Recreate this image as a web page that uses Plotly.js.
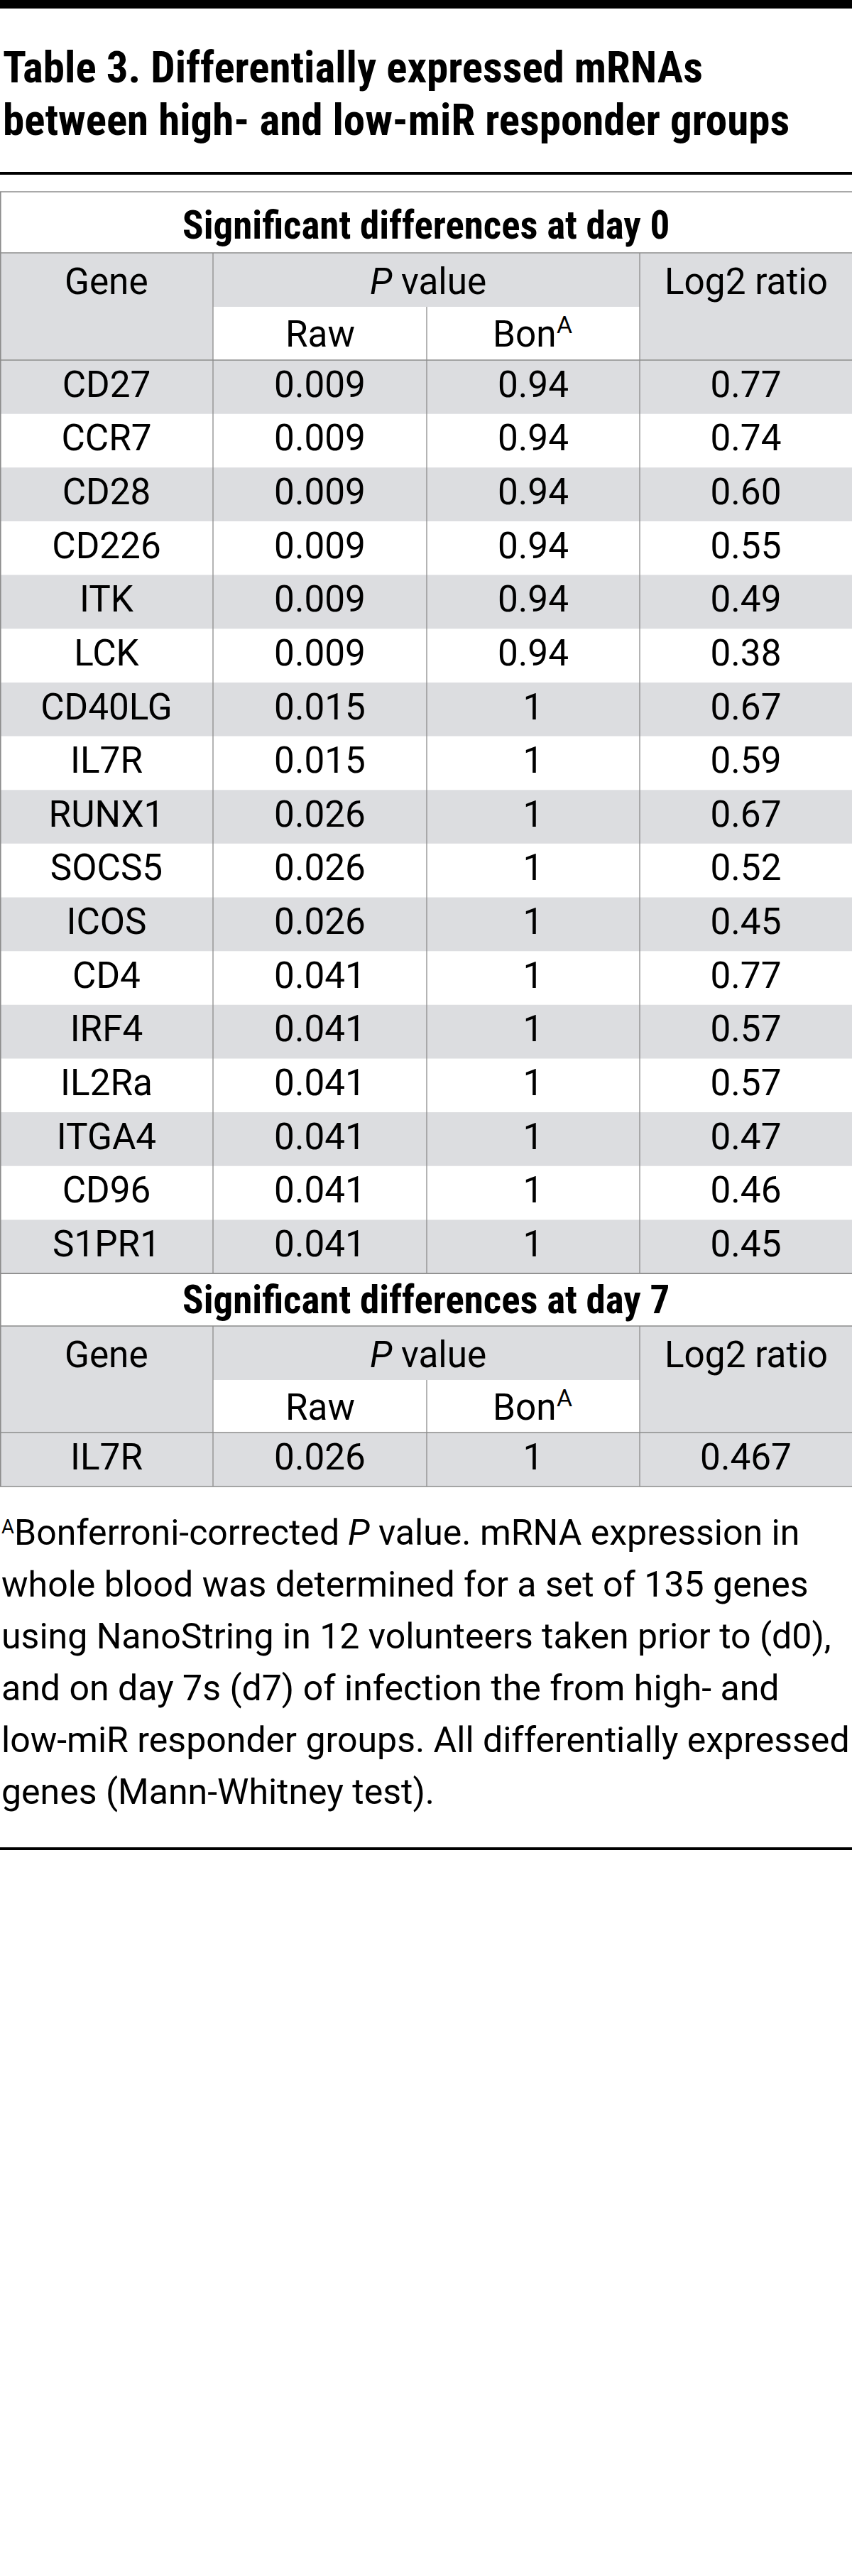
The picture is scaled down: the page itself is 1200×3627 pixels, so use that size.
<!DOCTYPE html>
<html>
<head>
<meta charset="utf-8">
<script src="https://cdn.plot.ly/plotly-3.0.1.min.js"></script>
<style>
  html, body { margin: 0; padding: 0; background: #ffffff; }
  #chart { width: 1200px; height: 3627px; }
</style>
</head>
<body>
<div id="chart"></div>
<script>
// ---------------- DATA ----------------
const titleLines = [
  'Table 3. Differentially expressed mRNAs',
  'between high- and low-miR responder groups'
];
const sectionTitles = ['Significant differences at day 0', 'Significant differences at day 7'];
const colHeaders = ['Gene', 'P value', 'Log2 ratio'];
const subHeaders = ['Raw', 'Bon'];
const footnoteMark = 'A';

const genesDay0 = ['CD27','CCR7','CD28','CD226','ITK','LCK','CD40LG','IL7R','RUNX1','SOCS5','ICOS','CD4','IRF4','IL2Ra','ITGA4','CD96','S1PR1'];
const rawDay0   = ['0.009','0.009','0.009','0.009','0.009','0.009','0.015','0.015','0.026','0.026','0.026','0.041','0.041','0.041','0.041','0.041','0.041'];
const bonDay0   = ['0.94','0.94','0.94','0.94','0.94','0.94','1','1','1','1','1','1','1','1','1','1','1'];
const log2Day0  = ['0.77','0.74','0.60','0.55','0.49','0.38','0.67','0.59','0.67','0.52','0.45','0.77','0.57','0.57','0.47','0.46','0.45'];

const genesDay7 = ['IL7R'];
const rawDay7   = ['0.026'];
const bonDay7   = ['1'];
const log2Day7  = ['0.467'];

const footnoteLines = [
  'Bonferroni-corrected P value. mRNA expression in',
  'whole blood was determined for a set of 135 genes',
  'using NanoString in 12 volunteers taken prior to (d0),',
  'and on day 7s (d7) of infection the from high- and',
  'low-miR responder groups. All differentially expressed',
  'genes (Mann-Whitney test).'
];

// ---------------- STYLE / LAYOUT ----------------
const W = 1200, H = 3627;
const FAMILY = 'Roboto, "Liberation Sans", "Open Sans", sans-serif';
const GREY = '#dcdde0';
const LINE = '#8c8c8c';
const colX = [0, 300, 601, 901, 1200];
const colC = [150, 450.5, 751, 1050.5];

const cv = document.createElement('canvas').getContext('2d');
function hasFont(name) {
  const probe = 'mmmmmmmmmmlliWQ@#1234';
  let diff = false;
  ['monospace', 'serif'].forEach(fb => {
    cv.font = '72px ' + fb;
    const a = cv.measureText(probe).width;
    cv.font = '72px "' + name + '", ' + fb;
    const b = cv.measureText(probe).width;
    if (Math.abs(a - b) > 0.5) diff = true;
  });
  return diff;
}
const condensedCandidates = ['Roboto Condensed', 'Liberation Sans Narrow', 'DejaVu Sans Condensed', 'Open Sans Condensed', 'Noto Sans Condensed'];
const condensed = condensedCandidates.find(hasFont);
const HEAD_FAMILY = condensed ? '"' + condensed + '", ' + FAMILY : FAMILY;

function measure(text, size, style, weight, family) {
  cv.font = (style || 'normal') + ' normal ' + (weight || 'normal') + ' ' + size + 'px ' + (family || FAMILY);
  return cv.measureText(text).width;
}
function fitSize(text, weight, family, target, lo, hi) {
  const s = 100 * target / measure(text, 100, 'normal', weight, family);
  return Math.max(lo, Math.min(hi, s));
}
const titleFS = fitSize(titleLines[1], 'bold', HEAD_FAMILY, 1156, 40, 61);
const secFS = fitSize(sectionTitles[0], 'bold', HEAD_FAMILY, 698, 38, 55);
const cellFS = fitSize('Log2 ratio', 'normal', FAMILY, 230, 40, 54);
const footFS = fitSize(footnoteLines[4], 'normal', FAMILY, 1195, 38, 54);

const shapes = [];
const annotations = [];
const traces = [];

function rect(x0, x1, y0, y1, color) {
  shapes.push({type: 'rect', xref: 'x', yref: 'y', x0, x1, y0, y1,
    fillcolor: color, line: {width: 0}, layer: 'below'});
}
function line(x0, y0, x1, y1, color, width) {
  shapes.push({type: 'line', xref: 'x', yref: 'y', x0, y0, x1, y1,
    line: {color: color, width: width}, layer: 'below'});
}
function label(text, x, y, size, opts) {
  opts = opts || {};
  annotations.push({text: text, x: x, y: y, xref: 'x', yref: 'y', showarrow: false,
    xanchor: opts.xanchor || 'center', yanchor: 'middle',
    font: {family: opts.family || FAMILY, size: size, color: '#000',
           weight: opts.weight || 'normal', style: opts.style || 'normal'}});
}
// a line made of runs of differently styled text (italic, superscript), laid side by side
function runs(segs, x, y, anchor) {
  const widths = segs.map(s => measure(s.t, s.size, s.style, s.weight, s.family));
  const total = widths.reduce((a, b) => a + b, 0) - measure(' ', segs[segs.length - 1].size);
  let cx = anchor === 'center' ? x - total / 2 : x;
  segs.forEach((s, i) => {
    label(s.t.trim(), cx, y + (s.dy || 0), s.size, {xanchor: 'left', style: s.style, weight: s.weight, family: s.family});
    cx += widths[i];
  });
}

// top bar & title
rect(0, W, 0, 12, '#000');
titleLines.forEach((t, i) => {
  label(t, 2, 95 + i * 74, titleFS, {xanchor: 'left', family: HEAD_FAMILY, weight: 'bold'});
});
rect(0, W, 242, 246, '#000');

function section(top, titleH, h1, h2, rowH, title, genes, raw, bon, log2) {
  const yHead = top + titleH;
  const ySub = yHead + h1;
  const yData = ySub + h2;
  const yEnd = yData + rowH * genes.length;

  // fills
  rect(colX[0], colX[1], yHead, yData, GREY);
  rect(colX[1], colX[3], yHead, ySub, GREY);
  rect(colX[3], colX[4], yHead, yData, GREY);
  genes.forEach((g, i) => {
    if (i % 2 === 0) rect(0, W, yData + i * rowH, yData + (i + 1) * rowH, GREY);
  });

  // lines
  line(0, top, W, top, LINE, 1.6);
  line(0, yHead, W, yHead, LINE, 1.6);
  line(0, yData, W, yData, LINE, 1.6);
  line(0, yEnd, W, yEnd, LINE, 1.6);
  line(0.8, top, 0.8, yEnd, LINE, 1.6);
  line(colX[1], yHead, colX[1], yEnd, LINE, 1.3);
  line(colX[3], yHead, colX[3], yEnd, LINE, 1.3);
  line(colX[2], ySub, colX[2], yEnd, LINE, 1.3);

  // text
  label(title, 600, top + titleH / 2 + (titleH > 80 ? 4 : 0), secFS, {family: HEAD_FAMILY, weight: 'bold'});
  const hc = yHead + h1 / 2 + 2;
  label(colHeaders[0], colC[0], hc, cellFS);
  const pv = colHeaders[1].split(' ');
  runs([{t: pv[0] + ' ', size: cellFS, style: 'italic'}, {t: pv.slice(1).join(' ') + ' ', size: cellFS}],
       (colC[1] + colC[2]) / 2, hc, 'center');
  label(colHeaders[2], colC[3], hc, cellFS);
  const sc = ySub + h2 / 2 + 1;
  label(subHeaders[0], colC[1], sc, cellFS);
  runs([{t: subHeaders[1], size: cellFS}, {t: footnoteMark + ' ', size: cellFS * 0.66, dy: -cellFS * 0.25}],
       colC[2] - 3, sc, 'center');

  const ys = genes.map((g, i) => yData + (i + 0.5) * rowH + 1);
  [genes, raw, bon, log2].forEach((col, c) => {
    traces.push({type: 'scatter', mode: 'text', x: col.map(() => colC[c]), y: ys,
      text: col, textposition: 'middle center', hoverinfo: 'skip', showlegend: false,
      textfont: {family: FAMILY, size: cellFS, color: '#000'}, cliponaxis: false});
  });
  return yEnd;
}

const end0 = section(270, 86, 76, 75, 75.65, sectionTitles[0], genesDay0, rawDay0, bonDay0, log2Day0);
section(end0, 74, 76, 74, 76, sectionTitles[1], genesDay7, rawDay7, bonDay7, log2Day7);

footnoteLines.forEach((t, i) => {
  const y = 2158 + i * 73;
  if (i === 0) {
    const k = t.indexOf(' P ');
    runs([
      {t: footnoteMark, size: footFS * 0.55, dy: -footFS * 0.17},
      {t: t.slice(0, k + 1), size: footFS},
      {t: 'P ', size: footFS, style: 'italic'},
      {t: t.slice(k + 3) + ' ', size: footFS}
    ], 0, y, 'left');
  } else {
    label(t, 0, y, footFS, {xanchor: 'left'});
  }
});
rect(0, W, 2601, 2605, '#000');

const layout = {
  width: W, height: H,
  margin: {l: 0, r: 0, t: 0, b: 0, pad: 0},
  paper_bgcolor: '#ffffff', plot_bgcolor: '#ffffff',
  xaxis: {range: [0, W], visible: false, fixedrange: true},
  yaxis: {range: [H, 0], visible: false, fixedrange: true},
  shapes: shapes, annotations: annotations, showlegend: false
};
Plotly.newPlot('chart', traces, layout, {staticPlot: true, displayModeBar: false}).then(gd => {
  gd.querySelectorAll('text').forEach(t => { if (!t.textContent.trim()) t.remove(); });
});
</script>
</body>
</html>
